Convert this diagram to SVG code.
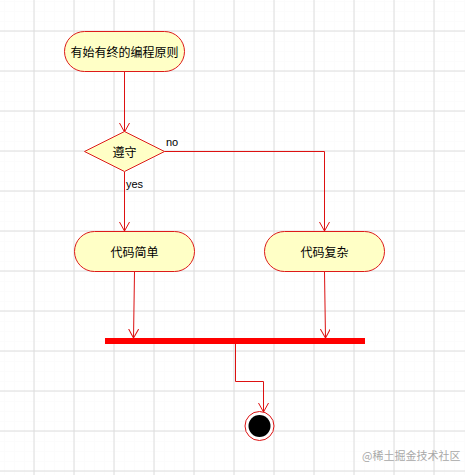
<svg xmlns="http://www.w3.org/2000/svg" width="465" height="475" viewBox="0 0 465 475">
  <style>
    .node { fill: #ffffc6; stroke: #dd1a1a; stroke-width: 1; }
    .lbl { font-family: "Noto Sans CJK SC", "Liberation Sans", sans-serif; font-size: 12px; fill: #000; text-anchor: middle; dominant-baseline: central; }
    .edge { fill: none; stroke: #dd1111; stroke-width: 1; }
    .elbl { font-family: "Liberation Sans", "DejaVu Sans", sans-serif; font-size: 11px; fill: #000; }
    .wm { font-family: "Noto Sans CJK SC", sans-serif; font-size: 11px; fill: #a8a8a8; }
  </style>
  <defs>
    <pattern id="minor" patternUnits="userSpaceOnUse" x="4" y="1" width="10" height="10">
      <path d="M0,0 H10 M0,0 V10" fill="none" stroke="#fafafa" stroke-width="1"/>
    </pattern>
    <pattern id="major" patternUnits="userSpaceOnUse" x="33.5" y="30.5" width="40" height="40">
      <path d="M0,0.5 H40 M0.5,0 V40" fill="none" stroke="#dcdcdc" stroke-width="1"/>
    </pattern>
    <marker id="arr" markerUnits="userSpaceOnUse" markerWidth="12" markerHeight="12" refX="9" refY="5" orient="auto">
      <path d="M0,0 L9,5 L0,10" fill="none" stroke="#dd1111" stroke-width="1"/>
    </marker>
  </defs>
  <rect width="465" height="475" fill="#ffffff"/>
  <rect width="465" height="475" fill="url(#minor)"/>
  <rect width="465" height="475" fill="url(#major)"/>

  <g id="connectors">
    <path class="edge" d="M124.5,72 V132" marker-end="url(#arr)"/>
    <path class="edge" d="M124.5,172 V231" marker-end="url(#arr)"/>
    <path class="edge" d="M164.5,151.5 H324.5 V231" marker-end="url(#arr)"/>
    <path class="edge" d="M134.5,272 L133.5,338" marker-end="url(#arr)"/>
    <path class="edge" d="M324.5,272 L325.5,338" marker-end="url(#arr)"/>
    <path class="edge" d="M235.5,344 V381.5 H263.5 V412" marker-end="url(#arr)"/>
    <text class="elbl" x="166" y="146">no</text>
    <text class="elbl" x="126" y="188">yes</text>
  </g>

  <g id="start">
    <rect class="node" x="64.5" y="31.5" width="120" height="40" rx="20" ry="20"/>
    <text class="lbl" x="124.5" y="51.5">有始有终的编程原则</text>
  </g>
  <g id="decision">
    <polygon class="node" points="124.5,131.5 164.5,151.5 124.5,171.5 84.5,151.5"/>
    <text class="lbl" x="124.5" y="151.5">遵守</text>
  </g>
  <g id="simple">
    <rect class="node" x="74.5" y="231.5" width="120" height="40" rx="20" ry="20"/>
    <text class="lbl" x="134.5" y="251.5">代码简单</text>
  </g>
  <g id="complex">
    <rect class="node" x="264.5" y="231.5" width="120" height="40" rx="20" ry="20"/>
    <text class="lbl" x="324.5" y="251.5">代码复杂</text>
  </g>
  <g id="join">
    <rect x="105" y="338" width="260" height="6" fill="#ff0000"/>
  </g>
  <g id="end">
    <circle cx="259.5" cy="426" r="14.5" fill="#ffffff" stroke="#dd1111" stroke-width="1"/>
    <circle cx="259.5" cy="426" r="11" fill="#000000"/>
  </g>
  <text class="wm" x="362" y="460">@稀土掘金技术社区</text>
</svg>
